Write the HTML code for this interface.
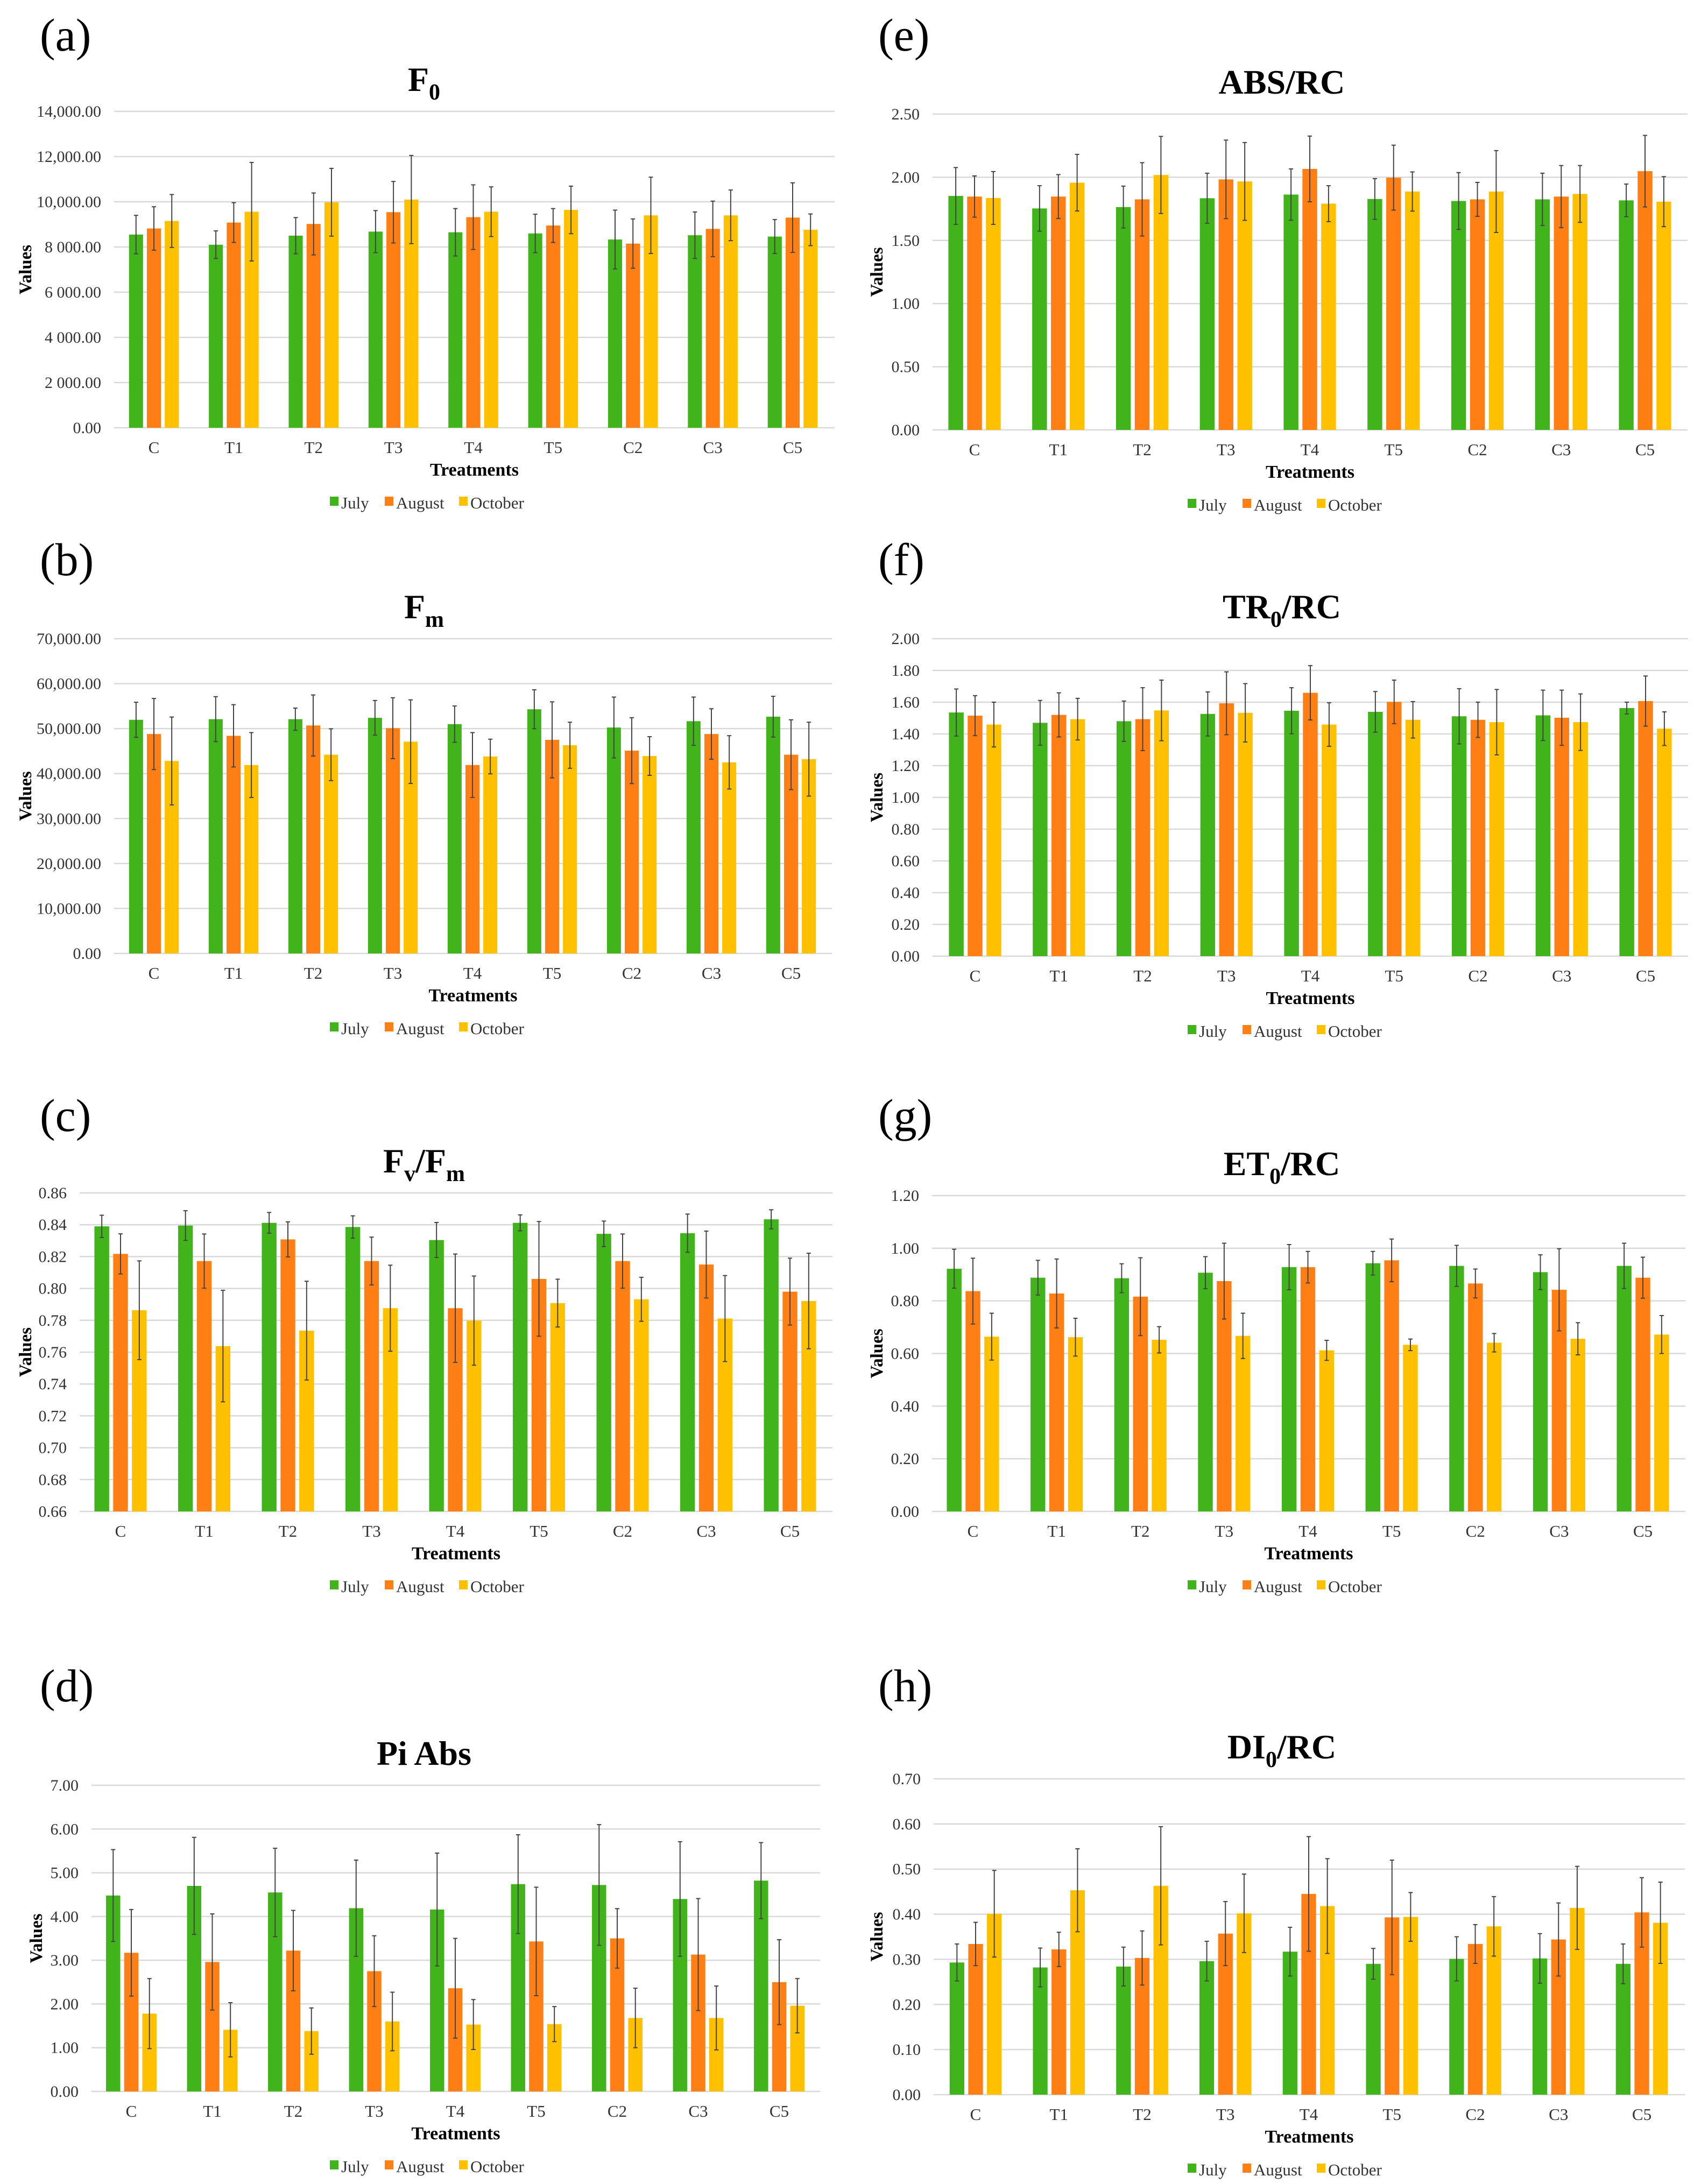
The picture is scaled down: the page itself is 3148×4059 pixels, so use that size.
<!DOCTYPE html>
<html><head><meta charset="utf-8">
<style>
html,body{margin:0;padding:0;background:#fff;}
svg{display:block;font-family:"Liberation Serif",serif;}
text{font-family:"Liberation Serif",serif;}
</style></head>
<body>
<svg id="fig" width="3148" height="4059" viewBox="0 0 3148 4059" xmlns="http://www.w3.org/2000/svg" font-family="Liberation Serif, serif">
<rect x="0" y="0" width="3148" height="4059" fill="#ffffff"/>
</svg>
<script>
const categories = ["C","T1","T2","T3","T4","T5","C2","C3","C5"];
const seriesNames = ["July","August","October"];

// (a) F0
const f0July = [8550,8100,8500,8680,8650,8600,8330,8520,8460];
const f0Aug  = [8820,9080,9020,9540,9320,8950,8150,8800,9300];
const f0Oct  = [9150,9560,9980,10100,9560,9640,9400,9400,8760];
const f0JulyErr = [850,610,800,930,1050,850,1300,1030,750];
const f0AugErr  = [960,880,1370,1360,1430,750,1090,1230,1540];
const f0OctErr  = [1170,2180,1500,1950,1100,1050,1690,1120,700];
const f0Ticks = ["0.00","2 000.00","4 000.00","6 000.00","8 000.00","10,000.00","12,000.00","14,000.00"];

// (b) Fm
const fmJuly = [51960,52100,52100,52400,51000,54300,50250,51650,52650];
const fmAug  = [48800,48400,50700,50100,41900,47500,45100,48800,44200];
const fmOct  = [42800,41900,44200,47100,43800,46300,43900,42500,43200];
const fmJulyErr = [3900,5000,2470,3850,4030,4330,6770,5370,4530];
const fmAugErr  = [7900,6930,6780,6770,7220,8450,7320,5610,7760];
const fmOctErr  = [9770,7220,5760,9310,3860,5120,4300,5930,8220];
const fmTicks = ["0.00","10,000.00","20,000.00","30,000.00","40,000.00","50,000.00","60,000.00","70,000.00"];

// (c) Fv/Fm
const fvJuly = [0.839,0.8395,0.8412,0.8386,0.8304,0.8412,0.8343,0.8347,0.8434];
const fvAug  = [0.8217,0.8172,0.8308,0.8172,0.7876,0.806,0.8172,0.815,0.798];
const fvOct  = [0.7863,0.7638,0.7735,0.7876,0.7798,0.7908,0.7932,0.7811,0.7921];
const fvJulyErr = [0.007,0.0093,0.0065,0.007,0.011,0.005,0.008,0.012,0.006];
const fvAugErr  = [0.0126,0.017,0.011,0.015,0.034,0.036,0.017,0.021,0.021];
const fvOctErr  = [0.031,0.035,0.031,0.027,0.028,0.015,0.0138,0.027,0.030];
const fvTicks = ["0.66","0.68","0.70","0.72","0.74","0.76","0.78","0.80","0.82","0.84","0.86"];

// (d) Pi Abs
const piJuly = [4.48,4.70,4.55,4.19,4.16,4.74,4.72,4.40,4.82];
const piAug  = [3.17,2.96,3.22,2.75,2.36,3.43,3.50,3.13,2.50];
const piOct  = [1.78,1.41,1.38,1.60,1.53,1.54,1.68,1.68,1.96];
const piJulyErr = [1.05,1.11,1.01,1.10,1.29,1.13,1.38,1.31,0.87];
const piAugErr  = [0.99,1.10,0.92,0.81,1.14,1.24,0.68,1.28,0.97];
const piOctErr  = [0.80,0.62,0.53,0.67,0.57,0.40,0.68,0.73,0.62];
const piTicks = ["0.00","1.00","2.00","3.00","4.00","5.00","6.00","7.00"];

// (e) ABS/RC
const absJuly = [1.852,1.753,1.764,1.834,1.863,1.828,1.812,1.825,1.817];
const absAug  = [1.847,1.847,1.825,1.983,2.066,1.997,1.825,1.847,2.048];
const absOct  = [1.836,1.957,2.018,1.967,1.791,1.887,1.887,1.868,1.807];
const absJulyErr = [0.225,0.18,0.166,0.198,0.203,0.161,0.225,0.207,0.129];
const absAugErr  = [0.163,0.174,0.29,0.311,0.26,0.257,0.134,0.246,0.283];
const absOctErr  = [0.209,0.224,0.305,0.308,0.142,0.155,0.324,0.225,0.198];
const absTicks = ["0.00","0.50","1.00","1.50","2.00","2.50"];

// (f) TR0/RC
const trJuly = [1.535,1.47,1.48,1.526,1.546,1.539,1.511,1.517,1.563];
const trAug  = [1.515,1.52,1.493,1.593,1.659,1.602,1.489,1.502,1.607];
const trOct  = [1.459,1.493,1.548,1.533,1.459,1.489,1.474,1.474,1.433];
const trJulyErr = [0.148,0.141,0.127,0.139,0.145,0.128,0.174,0.159,0.037];
const trAugErr  = [0.126,0.139,0.198,0.198,0.171,0.137,0.111,0.174,0.158];
const trOctErr  = [0.141,0.131,0.191,0.184,0.137,0.115,0.206,0.178,0.106];
const trTicks = ["0.00","0.20","0.40","0.60","0.80","1.00","1.20","1.40","1.60","1.80","2.00"];

// (g) ET0/RC
const etJuly = [0.922,0.888,0.886,0.907,0.928,0.943,0.933,0.909,0.933];
const etAug  = [0.837,0.828,0.816,0.875,0.928,0.954,0.866,0.842,0.888];
const etOct  = [0.664,0.662,0.652,0.667,0.612,0.633,0.641,0.656,0.672];
const etJulyErr = [0.074,0.066,0.055,0.061,0.086,0.045,0.078,0.066,0.086];
const etAugErr  = [0.125,0.131,0.148,0.144,0.06,0.081,0.055,0.156,0.078];
const etOctErr  = [0.089,0.072,0.05,0.086,0.038,0.022,0.035,0.061,0.072];
const etTicks = ["0.00","0.20","0.40","0.60","0.80","1.00","1.20"];

// (h) DI0/RC
const diJuly = [0.293,0.282,0.284,0.296,0.317,0.29,0.301,0.302,0.29];
const diAug  = [0.334,0.322,0.303,0.357,0.445,0.393,0.334,0.344,0.404];
const diOct  = [0.401,0.453,0.463,0.402,0.418,0.394,0.373,0.414,0.381];
const diJulyErr = [0.041,0.043,0.043,0.044,0.054,0.034,0.049,0.055,0.044];
const diAugErr  = [0.048,0.038,0.06,0.071,0.127,0.127,0.043,0.081,0.077];
const diOctErr  = [0.096,0.092,0.131,0.087,0.105,0.054,0.066,0.092,0.09];
const diTicks = ["0.00","0.10","0.20","0.30","0.40","0.50","0.60","0.70"];

const NS = "http://www.w3.org/2000/svg";
const svg = document.getElementById("fig");
const COLORS = ["#41B41C","#FF7F14","#FFC000"];
const FF = "Liberation Serif, serif";

function mk(tag, attrs, parent){
  const e = document.createElementNS(NS, tag);
  for (const k in attrs) e.setAttribute(k, attrs[k]);
  if (tag === "text") e.setAttribute("font-family", FF);
  (parent||svg).appendChild(e);
  return e;
}

function panel(cfg){
  const g = mk("g", {});
  
  
  const yScale = v => cfg.yb - (v - cfg.min) / (cfg.max - cfg.min) * (cfg.yb - cfg.yt);
  const step = (cfg.c5 - cfg.c0) / (categories.length - 1);
  const xScale = i => cfg.c0 + i * step;
  const bw = step * 0.176, off = step * 0.224;

  const lab = mk("text", {x: cfg.lx, y: cfg.ly, "font-size": 86, fill: "#000"}, g);
  lab.textContent = "(" + cfg.key + ")";
  
  

  const t = mk("text", {x: cfg.tx, y: cfg.yt - 38, "font-size": 64, "font-weight": "bold", "text-anchor": "middle", fill: "#000"}, g);
  
  
  cfg.title.forEach(p => {
    const s = mk("tspan", {}, t);
    if (p.sub) { s.setAttribute("font-size", 42); s.setAttribute("dy", 16); }
    else if (p.after) { s.setAttribute("dy", -16); }
    s.textContent = p.s;
  });

  const n = cfg.ticks.length;
  for (let i = 0; i < n; i++) {
    const v = cfg.min + (cfg.max - cfg.min) * i / (n - 1);
    const y = yScale(v);
    const gl = mk("line", {x1: cfg.x0, x2: cfg.x1, y1: y, y2: y, stroke: "#D9D9D9", "stroke-width": 2.5}, g);
    
    
    const tl = mk("text", {x: cfg.x0 - 24, y: y + 10, "font-size": 30, "text-anchor": "end", fill: "#333"}, g);
    tl.textContent = cfg.ticks[i];
    
    
  }

  for (let s = 0; s < 3; s++) {
    for (let i = 0; i < categories.length; i++) {
      const v = cfg.vals[s][i], e = cfg.errs[s][i];
      const cx = xScale(i) + (s - 1) * off;
      const y = yScale(v);
      const r = mk("rect", {x: cx - bw/2, y: y, width: bw, height: cfg.yb - y, fill: COLORS[s]}, g);
      
      
      const yt = yScale(v + e), ybm = yScale(v - e);
      const eb = mk("path", {d: `M${cx},${yt}V${ybm}M${cx-4},${yt}H${cx+4}M${cx-4},${ybm}H${cx+4}`, stroke: "#444", "stroke-width": 2, fill: "none"}, g);
      
      
    }
  }

  for (let i = 0; i < categories.length; i++) {
    const xl = mk("text", {x: xScale(i), y: cfg.yb + 47, "font-size": 31, "text-anchor": "middle", fill: "#333"}, g);
    xl.textContent = categories[i];
    
    
  }
  const xt = mk("text", {x: (cfg.x0 + cfg.x1)/2, y: cfg.yb + 89, "font-size": 34, "font-weight": "bold", "text-anchor": "middle", fill: "#000"}, g);
  xt.textContent = "Treatments";
  
  

  const ymid = (cfg.yt + cfg.yb)/2;
  const yl = mk("text", {x: cfg.vx, y: ymid, "font-size": 33, "font-weight": "bold", "text-anchor": "middle", fill: "#000", transform: `rotate(-90 ${cfg.vx} ${ymid})`}, g);
  yl.textContent = "Values";
  
  

  const widths = [72, 108, 118];
  let lx = cfg.tx - 175;
  const ly = cfg.yb + 150;
  for (let s = 0; s < 3; s++) {
    const lg = mk("g", {}, g);
    
    
    mk("rect", {x: lx, y: ly - 22, width: 16, height: 17, fill: COLORS[s]}, lg);
    const tx = mk("text", {x: lx + 21, y: ly, "font-size": 31, fill: "#333"}, lg);
    tx.textContent = seriesNames[s];
    lx += widths[s] + 30;
  }
}

const L = {lx: 74, tx: 788, vx: 58};
const R = {lx: 1632, tx: 2382, vx: 1640};
panel(Object.assign({key:"a", title:[{s:"F"},{s:"0",sub:true}], min:0, max:14000, ticks:f0Ticks, yt:207, yb:795, x0:212, x1:1551, c0:286, c5:1473, ly:94, vals:[f0July,f0Aug,f0Oct], errs:[f0JulyErr,f0AugErr,f0OctErr]}, L));
panel(Object.assign({key:"b", title:[{s:"F"},{s:"m",sub:true}], min:0, max:70000, ticks:fmTicks, yt:1187, yb:1772, x0:212, x1:1546, c0:286, c5:1470, ly:1069, vals:[fmJuly,fmAug,fmOct], errs:[fmJulyErr,fmAugErr,fmOctErr]}, L));
panel(Object.assign({key:"c", title:[{s:"F"},{s:"v",sub:true},{s:"/F",after:true},{s:"m",sub:true}], min:0.66, max:0.86, ticks:fvTicks, yt:2217, yb:2809, x0:148, x1:1547, c0:224, c5:1468, ly:2102, vals:[fvJuly,fvAug,fvOct], errs:[fvJulyErr,fvAugErr,fvOctErr]}, L));
panel(Object.assign({key:"d", title:[{s:"Pi Abs"}], min:0, max:7, ticks:piTicks, yt:3318, yb:3887, x0:170, x1:1524, c0:244, c5:1448, ly:3162, vals:[piJuly,piAug,piOct], errs:[piJulyErr,piAugErr,piOctErr]}, Object.assign({}, L, {vx:78})));
panel(Object.assign({key:"e", title:[{s:"ABS/RC"}], min:0, max:2.5, ticks:absTicks, yt:212, yb:799, x0:1733, x1:3136, c0:1811, c5:3057, ly:94, vals:[absJuly,absAug,absOct], errs:[absJulyErr,absAugErr,absOctErr]}, R));
panel(Object.assign({key:"f", title:[{s:"TR"},{s:"0",sub:true},{s:"/RC",after:true}], min:0, max:2, ticks:trTicks, yt:1187, yb:1777, x0:1733, x1:3137, c0:1812, c5:3058, ly:1069, vals:[trJuly,trAug,trOct], errs:[trJulyErr,trAugErr,trOctErr]}, R));
panel(Object.assign({key:"g", title:[{s:"ET"},{s:"0",sub:true},{s:"/RC",after:true}], min:0, max:1.2, ticks:etTicks, yt:2222, yb:2809, x0:1732, x1:3132, c0:1808, c5:3053, ly:2102, vals:[etJuly,etAug,etOct], errs:[etJulyErr,etAugErr,etOctErr]}, R));
panel(Object.assign({key:"h", title:[{s:"DI"},{s:"0",sub:true},{s:"/RC",after:true}], min:0, max:0.7, ticks:diTicks, yt:3306, yb:3893, x0:1735, x1:3131, c0:1813, c5:3051, ly:3162, vals:[diJuly,diAug,diOct], errs:[diJulyErr,diAugErr,diOctErr]}, R));
</script>
</body></html>
